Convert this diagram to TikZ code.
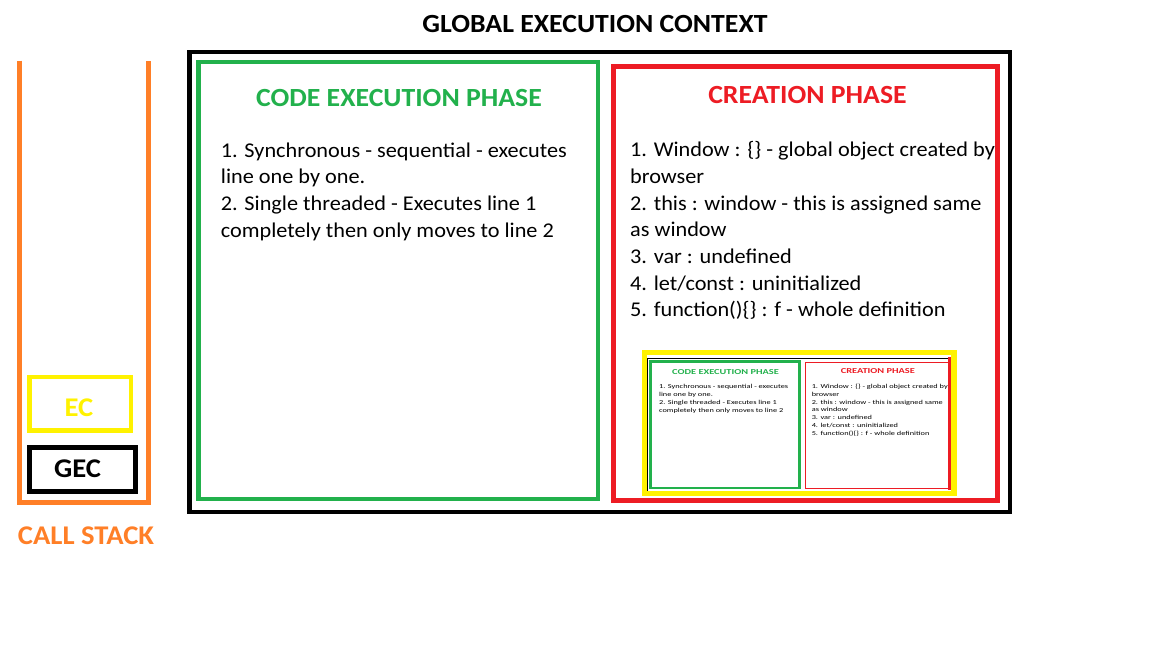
\documentclass[tikz,border=0pt]{standalone}
\usepackage{fontspec}
\setmainfont{Carlito}[FakeStretch=1.06]
\definecolor{cOrange}{HTML}{FF7F27}
\definecolor{cYellow}{HTML}{FFF200}
\definecolor{cGreen}{HTML}{22B14C}
\definecolor{cRed}{HTML}{ED1C24}
\newcommand\bodyfont{\fontsize{21}{26.7}\selectfont}
\newcommand\headfont{\fontsize{26.2}{30}\selectfont\bfseries}
\newcommand\stackfont{\fontsize{27}{30}\selectfont\bfseries}
\newcommand\drawpanels{%
  \draw[blackline] (189.5,52) rectangle (1010,512);
  \draw[greenline] (198.3,62) rectangle (598,499);
  \draw[redline] (613,66) rectangle (997.5,500.5);
  \node[head, text=cGreen] (ghead) at (399,106.7) {CODE EXECUTION PHASE};
  \node[head, text=cRed] (rhead) at (807.5,103.3) {CREATION PHASE};
  \node[bodyline] (g1) at (220.7,157) {1. Synchronous - sequential - executes};
  \node[bodyline] (g2) at (220.7,183.7) {line one by one.};
  \node[bodyline] (g3) at (220.7,210.3) {2. Single threaded - Executes line 1};
  \node[bodyline] (g4) at (220.7,237) {completely then only moves to line 2};
  \node[bodyline] (r1) at (630,156.7) {1. Window : \{\} - global object created by};
  \node[bodyline] (r2) at (630,183.3) {browser};
  \node[bodyline] (r3) at (630,210) {2. this : window - this is assigned same};
  \node[bodyline] (r4) at (630,236.7) {as window};
  \node[bodyline] (r5) at (630,263.3) {3. var : undefined};
  \node[bodyline] (r6) at (630,290) {4. let/const : uninitialized};
  \node[bodyline] (r7) at (630,316.7) {5. function()\{\} : f - whole definition};
}
\begin{document}
\begin{tikzpicture}[x=1pt,y=-1pt,
  blackline/.style={draw=black, line width=4.5pt},
  greenline/.style={draw=cGreen, line width=4.5pt},
  redline/.style={draw=cRed, line width=5pt},
  head/.style={anchor=base, inner sep=0pt, font=\headfont},
  bodyline/.style={anchor=base west, inner sep=0pt, font=\bodyfont},
  stacklbl/.style={anchor=base, inner sep=0pt, font=\stackfont}]
\useasboundingbox[fill=white] (0,0) rectangle (1152,648);

% title
\node[head] (title) at (595,32.3) {GLOBAL EXECUTION CONTEXT};

% call stack
\draw[cOrange, line width=5pt, line join=miter] (19.3,60.7) -- (19.3,502) -- (148.5,502) -- (148.5,60.7);
\draw[cYellow, line width=4.5pt] (29.5,377) rectangle (130.8,430.5);
\node[stacklbl, text=cYellow] (ec) at (79,416.7) {EC};
\draw[black, line width=5pt] (29.8,447.5) rectangle (135.2,491.7);
\node[stacklbl, text=black] (gec) at (77.5,477.7) {GEC};
\node[stacklbl, text=cOrange] (callstack) at (86,544) {CALL STACK};

% main panels
\drawpanels

% thumbnail
\begin{scope}[shift={(576.7,343.3)}, xscale=0.373, yscale=0.29, transform shape, name prefix=t-,
  blackline/.style={draw=black, line width=1.5pt},
  greenline/.style={draw=cGreen, line width=2.7pt},
  redline/.style={draw=cRed, line width=1.3pt}]
  \drawpanels
\end{scope}
\draw[cRed, line width=3.5pt] (950,357) -- (950,490);
\draw[cYellow, line width=5.5pt] (644.5,352.5) rectangle (954,493.5);
\end{tikzpicture}
\end{document}
